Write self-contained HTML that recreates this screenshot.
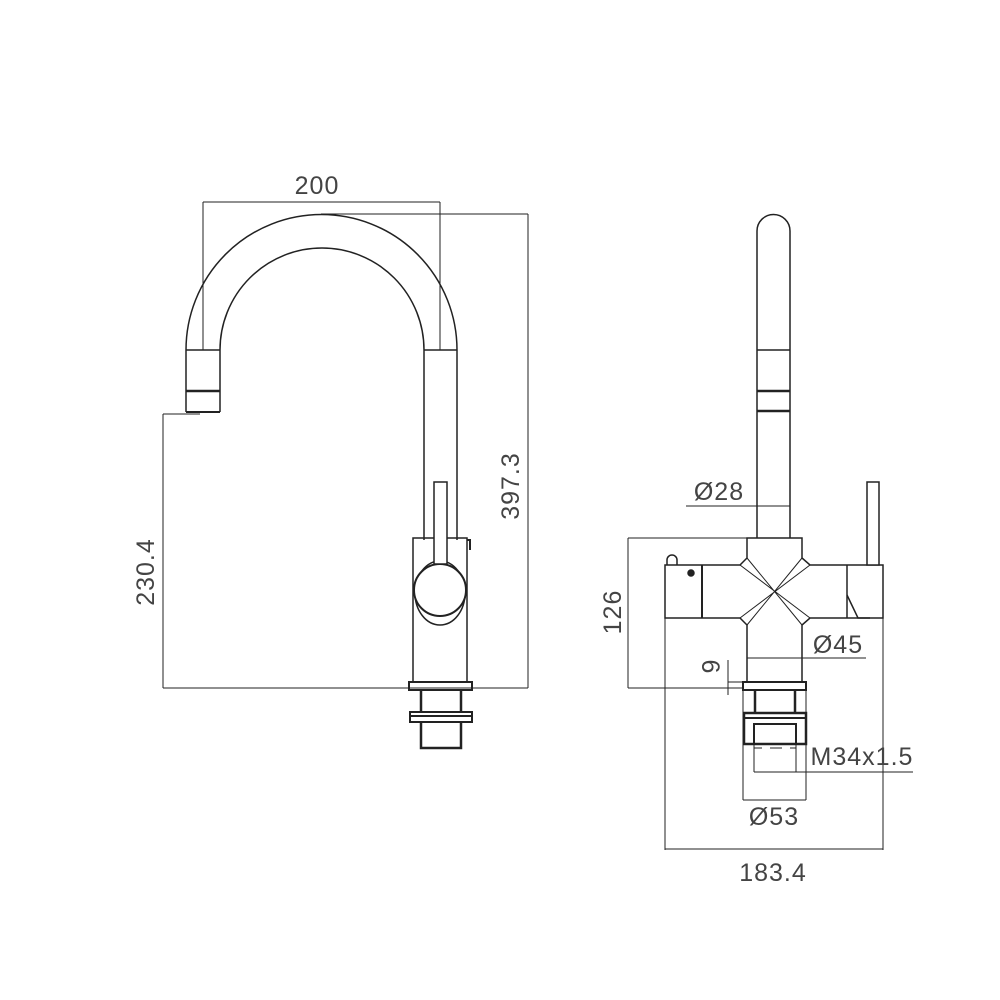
<!DOCTYPE html>
<html><head><style>body{margin:0;background:#fff}svg{display:block}text{font-family:"Liberation Sans",sans-serif;fill:#444;stroke:none;font-size:25px;letter-spacing:1px}</style></head><body>
<svg width="1000" height="1000" viewBox="0 0 1000 1000" fill="none" stroke="#222" stroke-width="1.5">
<path d="M186 412 L186 350 A135.5 135.5 0 0 1 457 350 L457 540"/>
<path d="M220 412 L220 350 A102 102 0 0 1 424 350 L424 540"/>
<line x1="186" y1="350" x2="220" y2="350"/><line x1="424" y1="350" x2="457" y2="350"/>
<line x1="186" y1="391" x2="220" y2="391" stroke-width="2.5"/>
<line x1="186" y1="412" x2="220" y2="412" stroke-width="2"/>
<line x1="203" y1="202" x2="440" y2="202" stroke-width="1"/>
<line x1="203" y1="202" x2="203" y2="350" stroke-width="1"/>
<line x1="440" y1="202" x2="440" y2="350" stroke-width="1"/>
<text x="317" y="194" text-anchor="middle">200</text>
<line x1="321" y1="214" x2="528" y2="214" stroke-width="1"/>
<line x1="528" y1="214" x2="528" y2="688" stroke-width="1"/>
<line x1="163" y1="414" x2="200" y2="414" stroke-width="1"/>
<line x1="163" y1="414" x2="163" y2="688" stroke-width="1"/>
<line x1="163" y1="688" x2="528" y2="688" stroke-width="1"/>
<text transform="translate(519,486) rotate(-90)" text-anchor="middle">397.3</text>
<text transform="translate(154,572) rotate(-90)" text-anchor="middle">230.4</text>
<rect x="413" y="538" width="54" height="144"/>
<path d="M467 540 l3 0 0 10" stroke-width="2"/>
<ellipse cx="440" cy="593" rx="25" ry="32"/>
<circle cx="440" cy="590" r="26" fill="#fff" stroke-width="2"/>
<rect x="434" y="482" width="13" height="82" fill="#fff"/>
<rect x="409" y="682" width="63" height="8" stroke-width="2"/>
<line x1="421" y1="690" x2="421" y2="712" stroke-width="2.5"/><line x1="461" y1="690" x2="461" y2="712" stroke-width="2.5"/>
<rect x="410" y="712" width="62" height="10" stroke-width="2"/>
<line x1="410" y1="716" x2="472" y2="716" stroke-width="2"/>
<path d="M421 722 V748 H461 V722" stroke-width="2.5"/>
<path d="M757 540 V231 A16.5 16.5 0 0 1 790 231 V540"/>
<line x1="757" y1="350" x2="790" y2="350"/>
<line x1="757" y1="391" x2="790" y2="391" stroke-width="2.5"/>
<line x1="757" y1="411" x2="790" y2="411" stroke-width="2.5"/>
<line x1="686" y1="506" x2="790" y2="506" stroke-width="1"/>
<text x="719" y="500" text-anchor="middle">Ø28</text>
<path d="M747 538 H802 V558 L810 565 H883 V618 H810 L802 625 V682 H747 V625 L740 618 H665 V565 H740 L747 558 Z" fill="#fff"/>
<path d="M740 565 L810 618 M810 565 L740 618 M747 558 L802 625 M802 558 L747 625" stroke-width="1"/>
<line x1="702" y1="565" x2="702" y2="618" stroke-width="2"/>
<line x1="847" y1="565" x2="847" y2="618"/>
<path d="M847 595 L858 618 L870 618" stroke-width="1.5"/>
<rect x="867" y="482" width="12" height="83" fill="#fff"/>
<path d="M667 565 v-5 a5 5 0 0 1 10 0 v5"/>
<circle cx="691" cy="573" r="3" fill="#222"/>
<rect x="743" y="682" width="63" height="8" stroke-width="2"/>
<line x1="755" y1="690" x2="755" y2="713" stroke-width="2.5"/><line x1="795" y1="690" x2="795" y2="713" stroke-width="2.5"/>
<rect x="744" y="713" width="62" height="31" stroke-width="2.5"/>
<line x1="744" y1="718" x2="806" y2="718" stroke-width="2"/>
<rect x="754" y="724" width="42" height="20" stroke-width="2"/>
<path d="M754 744 V772 M796 744 V772" stroke-width="1"/>
<path d="M743 690 V800 M806 690 V800" stroke-width="1"/>
<path d="M754 748 h8 M770 748 h12 M790 748 h6" stroke-width="1"/>
<line x1="628" y1="538" x2="747" y2="538" stroke-width="1"/>
<line x1="628" y1="538" x2="628" y2="688" stroke-width="1"/>
<line x1="628" y1="688" x2="743" y2="688" stroke-width="1"/>
<text transform="translate(621,612) rotate(-90)" text-anchor="middle">126</text>
<line x1="728" y1="660" x2="728" y2="695" stroke-width="1"/>
<line x1="728" y1="682" x2="743" y2="682" stroke-width="1"/>
<text transform="translate(702,667) rotate(90)" text-anchor="middle" font-size="21">6</text>
<line x1="747" y1="658" x2="866" y2="658" stroke-width="1"/>
<text x="838" y="653" text-anchor="middle">Ø45</text>
<line x1="665" y1="618" x2="665" y2="850" stroke-width="1"/>
<line x1="883" y1="618" x2="883" y2="850" stroke-width="1"/>
<line x1="665" y1="849" x2="883" y2="849" stroke-width="1"/>
<text x="773" y="881" text-anchor="middle">183.4</text>
<line x1="754" y1="772" x2="913" y2="772" stroke-width="1"/>
<text x="862" y="765" text-anchor="middle" font-size="22">M34x1.5</text>
<line x1="743" y1="800" x2="806" y2="800" stroke-width="1"/>
<text x="774" y="825" text-anchor="middle">Ø53</text>
</svg>
</body></html>
